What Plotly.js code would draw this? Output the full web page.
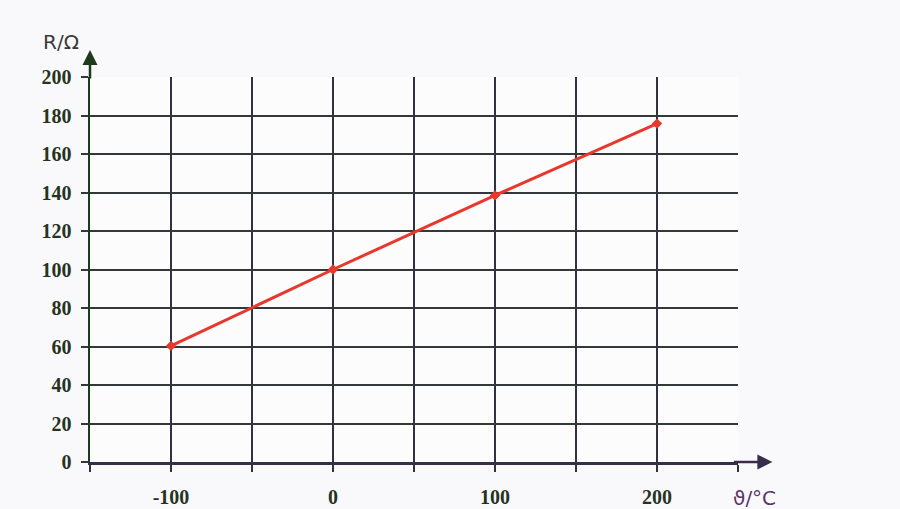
<!DOCTYPE html>
<html><head><meta charset="utf-8">
<script src="https://cdn.plot.ly/plotly-3.0.1.min.js"></script>
<style>html,body{margin:0;padding:0;background:#f9f9fb;}#chart{width:900px;height:509px;}</style>
</head><body><div id="chart"></div>
<script>
// Data (Pt100-like resistance vs temperature)
var temperature = [-100, 0, 100, 200];
var resistance = [60.3, 100, 138.5, 175.8];
var xTickVals = [-150, -100, -50, 0, 50, 100, 150, 200, 250];
var xTickText = ['', '-100', '', '0', '', '100', '', '200', ''];
var yTickVals = [0, 20, 40, 60, 80, 100, 120, 140, 160, 180, 200];

var trace = {
  x: temperature, y: resistance, type: 'scatter', mode: 'lines+markers',
  line: {color: '#e8372c', width: 3},
  marker: {color: '#e8372c', size: 8, symbol: 'diamond'},
  cliponaxis: false, hoverinfo: 'skip'
};

var tickFont = {family: 'Liberation Serif, serif', size: 20, weight: 'bold', color: '#26331f'};

var layout = {
  width: 900, height: 509,
  margin: {l: 90, r: 162, t: 77, b: 47},
  paper_bgcolor: '#f9f9fb', plot_bgcolor: '#fcfcfd',
  showlegend: false,
  xaxis: {
    range: [-150, 250], tickmode: 'array', tickvals: xTickVals, ticktext: xTickText,
    showgrid: true, gridcolor: '#353040', gridwidth: 2,
    zeroline: false, showline: true, linecolor: '#3a2d4a', linewidth: 2.5,
    ticks: 'outside', ticklen: 7, tickwidth: 2, tickcolor: '#353040',
    tickfont: tickFont, ticklabelstandoff: 8, fixedrange: true
  },
  yaxis: {
    range: [0, 200], tickmode: 'array', tickvals: yTickVals,
    showgrid: true, gridcolor: '#34383a', gridwidth: 2,
    zeroline: false, showline: true, linecolor: '#1d3a1d', linewidth: 2.5,
    ticks: 'outside', ticklen: 7, tickwidth: 2, tickcolor: '#34383a',
    tickfont: tickFont, ticklabelstandoff: 5, fixedrange: true
  },
  annotations: [
    {xref: 'paper', yref: 'paper', x: 1.053, y: 0, ax: -40, ay: 0,
     showarrow: true, arrowhead: 2, arrowsize: 1.2, arrowwidth: 2.5, arrowcolor: '#3a2d4a', text: ''},
    {xref: 'paper', yref: 'paper', x: 0, y: 1.07, ax: 0, ay: 30,
     showarrow: true, arrowhead: 2, arrowsize: 1.2, arrowwidth: 2.5, arrowcolor: '#1d3a1d', text: ''},
    {xref: 'paper', yref: 'paper', x: -0.045, y: 1.092, xanchor: 'center', yanchor: 'middle',
     showarrow: false, text: 'R/Ω', font: {family: 'DejaVu Sans, sans-serif', size: 20, color: '#3a3a3a'}},
    {xref: 'paper', yref: 'paper', x: 1.025, y: -0.094, xanchor: 'center', yanchor: 'middle',
     showarrow: false, text: 'ϑ/°C', font: {family: 'DejaVu Sans, sans-serif', size: 20, color: '#5a3566'}}
  ]
};

Plotly.newPlot('chart', [trace], layout, {displayModeBar: false, staticPlot: true});
</script></body></html>
